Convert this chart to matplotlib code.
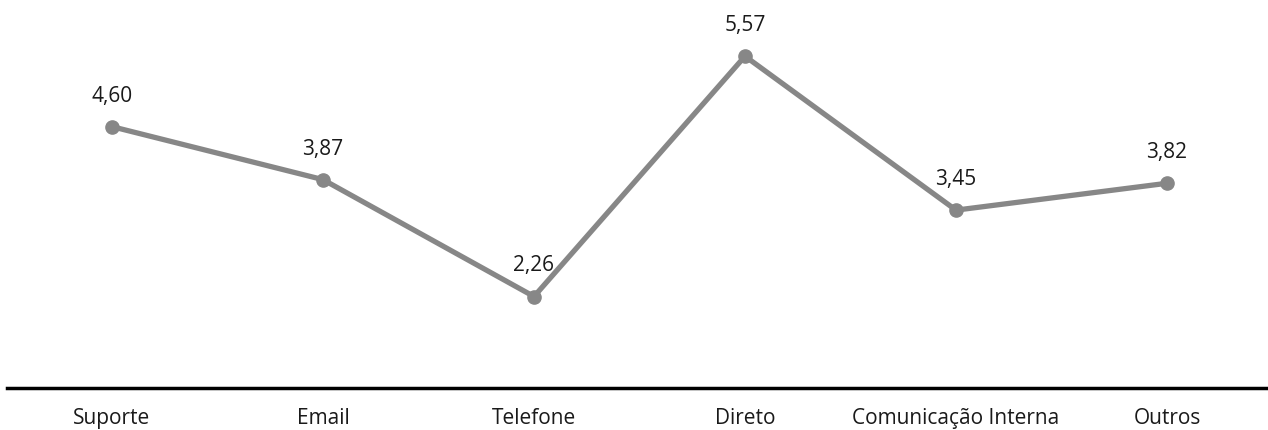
import matplotlib
matplotlib.use("Agg")
import matplotlib.pyplot as plt

# Data
categories = ["Suporte", "Email", "Telefone", "Direto", "Comunicação Interna", "Outros"]
values = [4.60, 3.87, 2.26, 5.57, 3.45, 3.82]
value_labels = ["4,60", "3,87", "2,26", "5,57", "3,45", "3,82"]

plt.rcParams["font.family"] = ["Open Sans", "DejaVu Sans"]

fig = plt.figure(figsize=(12.68, 4.30), dpi=100)
W, H = 1268, 430
px_per_unit = 72.6
left_px, bottom_px, top_px = 6.5, 388, 0
ax = fig.add_axes([left_px / W, 1 - bottom_px / H, 1266 / W, (bottom_px - top_px) / H])

x = list(range(len(categories)))
ax.plot(x, values, color="#878787", lw=3.8, marker="o", markersize=9.5,
        solid_capstyle="round", solid_joinstyle="round")

for xi, v, lab in zip(x, values, value_labels):
    ax.annotate(lab, (xi, v), xytext=(0, 22), textcoords="offset points",
                ha="center", va="center", fontsize=15, color="#1a1a1a")

ax.set_xlim(-0.5, len(categories) - 0.5)
ax.set_ylim(1, 1 + (bottom_px - top_px) / px_per_unit)

for s in ["top", "right", "left"]:
    ax.spines[s].set_visible(False)
ax.spines["bottom"].set_linewidth(2.5)
ax.spines["bottom"].set_color("black")

ax.set_yticks([])
ax.set_xticks(x)
ax.set_xticklabels(categories, fontsize=15, color="#1a1a1a")
ax.tick_params(axis="x", length=0, pad=14.5)

fig.savefig("out.png", dpi=100)
